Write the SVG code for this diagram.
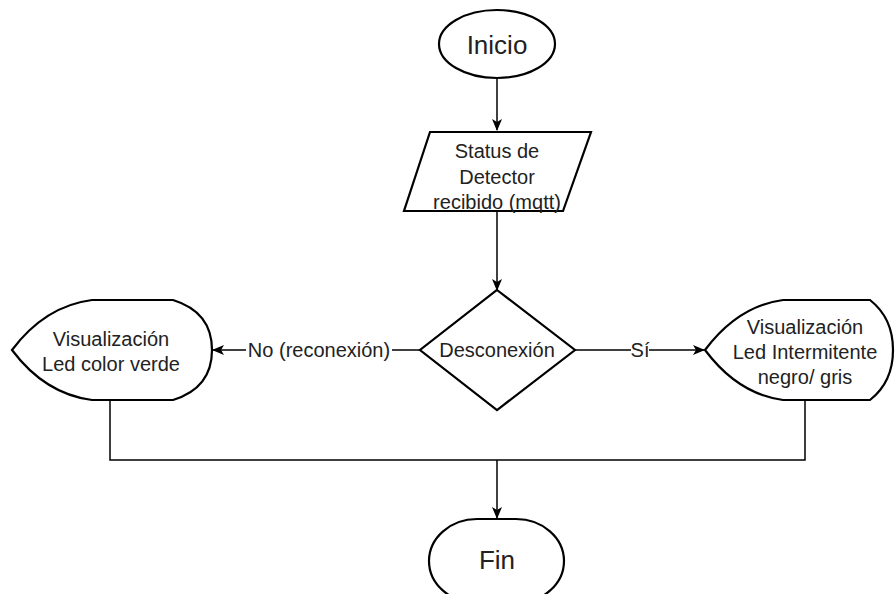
<svg xmlns="http://www.w3.org/2000/svg" width="895" height="594" viewBox="0 0 895 594">
  <style>
    .shape { fill: #ffffff; stroke: #000000; stroke-width: 2.2; }
    .edge { fill: none; stroke: #000000; stroke-width: 1.5; }
    .label { font-family: "Liberation Sans", Arial, sans-serif; font-size: 20px; fill: #222222; text-anchor: middle; dominant-baseline: central; }
    .big { font-size: 26px; }
    .edge-label { font-family: "Liberation Sans", Arial, sans-serif; font-size: 20px; fill: #222222; text-anchor: middle; dominant-baseline: central; }
  </style>
  <defs>
    <marker id="arrow" viewBox="0 0 12 10" refX="11" refY="5" markerWidth="12" markerHeight="10" markerUnits="userSpaceOnUse" orient="auto">
      <path d="M0,0 L12,5 L0,10 L3,5 Z" fill="#000000"/>
    </marker>
  </defs>
  <rect width="895" height="594" fill="#ffffff"/>

  <!-- connectors -->
  <g id="connectors">
    <path class="edge" d="M497,78 L497,130" marker-end="url(#arrow)"/>
    <path class="edge" d="M497,211 L497,290" marker-end="url(#arrow)"/>
    <path class="edge" d="M420,350 L213,350" marker-end="url(#arrow)"/>
    <path class="edge" d="M575,350 L704,350" marker-end="url(#arrow)"/>
    <path class="edge" d="M110,400 L110,460 L805,460 L805,401"/>
    <path class="edge" d="M497,460 L497,518" marker-end="url(#arrow)"/>
    <rect x="246" y="338" width="146" height="24" fill="#ffffff"/>
    <text class="edge-label" x="319" y="350">No (reconexión)</text>
    <rect x="631" y="338" width="18" height="24" fill="#ffffff"/>
    <text class="edge-label" x="640" y="350">Sí</text>
  </g>

  <!-- start terminal -->
  <g id="inicio">
    <ellipse class="shape" cx="497" cy="44" rx="58" ry="34"/>
    <text class="label big" x="497" y="45">Inicio</text>
  </g>

  <!-- input data -->
  <g id="status">
    <path class="shape" d="M430,132 L591,132 L563,211 L404,211 Z"/>
    <text class="label" x="497" y="151">Status de</text>
    <text class="label" x="497" y="177">Detector</text>
    <text class="label" x="497" y="202">recibido (mqtt)</text>
  </g>

  <!-- decision -->
  <g id="desconexion">
    <path class="shape" d="M497,290 L575,350 L497,410 L420,350 Z"/>
    <text class="label" x="497" y="350">Desconexión</text>
  </g>

  <!-- display: green LED -->
  <g id="led-verde">
    <path class="shape" d="M12,350 Q45,306 92,300 L173,300 Q212,312 212,350 Q212,388 173,400 L92,400 Q45,394 12,350 Z"/>
    <text class="label" x="111" y="339">Visualización</text>
    <text class="label" x="111" y="364">Led color verde</text>
  </g>

  <!-- display: blinking LED -->
  <g id="led-intermitente">
    <path class="shape" d="M705,350 Q738,306 783,300 L870,300 Q893,318 893,350 Q893,382 870,400 L783,400 Q738,394 705,350 Z"/>
    <text class="label" x="805" y="327">Visualización</text>
    <text class="label" x="805" y="352">Led Intermitente</text>
    <text class="label" x="805" y="377">negro/ gris</text>
  </g>

  <!-- end terminal -->
  <g id="fin">
    <rect class="shape" x="429" y="519" width="135" height="84" rx="48" ry="42"/>
    <text class="label big" x="497" y="560">Fin</text>
  </g>
</svg>
